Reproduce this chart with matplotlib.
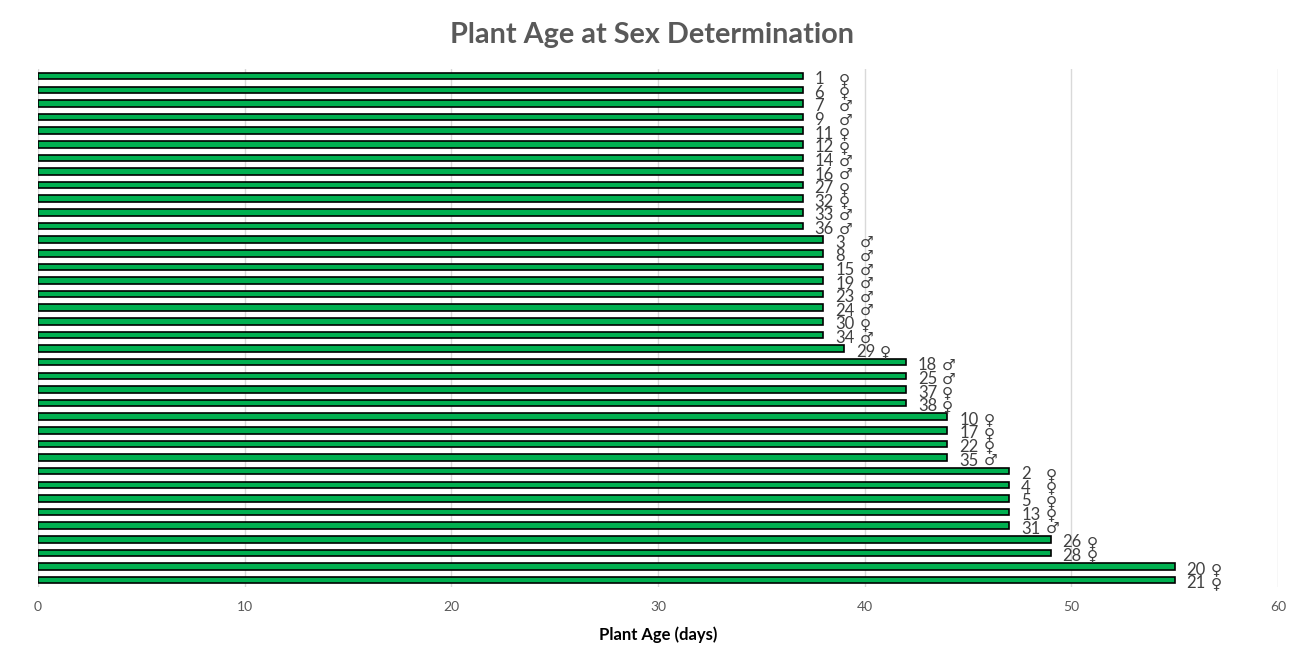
import matplotlib
matplotlib.use("Agg")
import matplotlib.pyplot as plt

plant_ids = [1, 6, 7, 9, 11, 12, 14, 16, 27, 32, 33, 36,
             3, 8, 15, 19, 23, 24, 30, 34,
             29,
             18, 25, 37, 38,
             10, 17, 22, 35,
             2, 4, 5, 13, 31,
             26, 28,
             20, 21]
sexes = ["♀", "♀", "♂", "♂", "♀", "♀", "♂", "♂", "♀", "♀", "♂", "♂",
         "♂", "♂", "♂", "♂", "♂", "♂", "♀", "♂",
         "♀",
         "♂", "♂", "♀", "♀",
         "♀", "♀", "♀", "♂",
         "♀", "♀", "♀", "♀", "♂",
         "♀", "♀",
         "♀", "♀"]
ages = [37] * 12 + [38] * 8 + [39] + [42] * 4 + [44] * 4 + [47] * 5 + [49] * 2 + [55] * 2

x_ticks = [0, 10, 20, 30, 40, 50, 60]

FONT = ["Lato", "DejaVu Sans"]
plt.rcParams["font.family"] = FONT

fig = plt.figure(figsize=(13.04, 6.67), dpi=100)
ax = fig.add_axes([0.0291, 0.120, 0.951, 0.776])

ypos = list(range(len(ages)))
ax.barh(ypos, ages, height=0.48, color="#00B050", edgecolor="black", linewidth=1.2, zorder=3)
ax.set_ylim(len(ages) - 0.5, -0.5)
ax.set_xlim(0, 60)
ax.set_xticks(x_ticks)
ax.set_yticks([])
ax.grid(axis="x", color="#D9D9D9", linewidth=1, zorder=0)
for s in ax.spines.values():
    s.set_visible(False)
ax.tick_params(axis="x", length=0, pad=10, labelsize=10, labelcolor="#595959")

for y, a, pid, sx in zip(ypos, ages, plant_ids, sexes):
    ax.annotate(str(pid), xy=(a, y), xytext=(8.5, -2.2), textcoords="offset points",
                ha="left", va="center", fontsize=12, color="#404040")
    ax.annotate(sx, xy=(a, y), xytext=(26, -2.2), textcoords="offset points",
                ha="left", va="center", fontsize=11, color="#404040",
                family=["DejaVu Sans"])

ax.set_xlabel("Plant Age (days)", fontsize=12, fontweight="bold", color="black", labelpad=10)
fig.suptitle("Plant Age at Sex Determination", fontsize=20.7, fontweight="bold",
             color="#595959", y=0.967)

fig.savefig("out.png", dpi=100)
